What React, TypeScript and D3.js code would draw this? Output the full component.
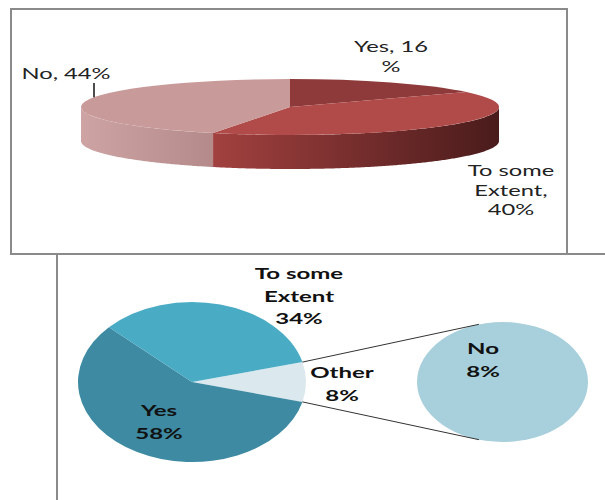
import * as d3 from 'd3';

const W = 605;
const H = 500;

// top chart: 3-D pie
const topCategories = ['Yes', 'To some Extent', 'No'];
const topValues = [16, 40, 44];
const topLabels = [['Yes, 16', '%'], ['To some', 'Extent,', '40%'], ['No, 44%']];

// bottom chart: pie of pie
const mainCategories = ['Yes', 'To some Extent'];
const mainValues = [58, 34];
const mainLabels = [['Yes', '58%'], ['To some', 'Extent', '34%']];
const otherCategories = ['No'];
const otherValues = [8];
const otherLabel = ['Other', '8%'];
const secondLabels = [['No', '8%']];

// styles
const topFill = ['#8e3a3a', '#b04b49', '#c99a9a'];
const topSide = [
  ['#7a2f2f', '#5a2222'],
  ['#a2413f', '#4a1b1b'],
  ['#cda3a3', '#b48a8a'],
];
const mainFill = ['#3d8aa2', '#4aabc5'];
const otherFill = '#dbe8ee';
const secondFill = ['#a8cfdc'];

// top pie geometry
const tp = { cx: 290, cy: 107, rx: 209, ry: 28, depth: 34 };
const topLabelPos = [
  { x: 391, y: 52 },
  { x: 511, y: 176 },
  { x: 66, y: 79 },
];
const topLineH = 19.5;
const topSx = 1.58;

// bottom geometry
const bp = { cx: 192, cy: 382, r: 80, sx: 1.425 };
const sp = { cx: 502.5, cy: 382, r: 60 };
const connectorAngle = (16 * Math.PI) / 180;
const mainLabelPos = [
  { x: 159, y: 416 },
  { x: 299, y: 279 },
];
const otherLabelPos = { x: 342, y: 378 };
const secondLabelPos = [{ x: 483, y: 354 }];
const botLineH = 22.5;
const botSx = 1.5;

function ellipsePt(cx: number, cy: number, rx: number, ry: number, a: number): [number, number] {
  return [cx + rx * Math.sin(a), cy - ry * Math.cos(a)];
}

function Lines({ lines, x, y, lh, sx, bold, size, fill }: any) {
  return (
    <g>
      {lines.map((t: string, i: number) => (
        <text
          key={i}
          transform={`translate(${x},${y + i * lh}) scale(${sx},1)`}
          textAnchor="middle"
          fontWeight={bold ? 700 : 400}
          fontSize={size}
          fill={fill}
        >
          {t}
        </text>
      ))}
    </g>
  );
}

export default function App() {
  // ---- top 3-D pie
  const topPie = d3.pie<number>().sort(null).value(d => d)(topValues);
  const topArc = d3.arc<d3.PieArcDatum<number>>().innerRadius(0).outerRadius(tp.rx);

  // front walls: only the part of each slice between 3 and 9 o'clock shows
  const sides = topPie
    .map((s, i) => {
      const a0 = Math.max(s.startAngle, Math.PI / 2);
      const a1 = Math.min(s.endAngle, (3 * Math.PI) / 2);
      if (a1 <= a0) return null;
      const steps = d3.range(a0, a1, 0.01).concat([a1]);
      const topPts = steps.map(a => ellipsePt(tp.cx, tp.cy, tp.rx, tp.ry, a));
      const botPts = topPts.map(([x, y]) => [x, y + tp.depth] as [number, number]).reverse();
      const d = d3.line()(topPts.concat(botPts)) + 'Z';
      const xs = topPts.map(p => p[0]);
      return { i, d, x0: d3.min(xs) as number, x1: d3.max(xs) as number };
    })
    .filter(Boolean) as { i: number; d: string; x0: number; x1: number }[];

  // leader for "No" label
  const noLabel = topLabelPos[2];
  const leaderX = noLabel.x + 28;
  const leaderA = -Math.asin((tp.cx - leaderX) / tp.rx);
  const leaderEnd = ellipsePt(tp.cx, tp.cy, tp.rx, tp.ry, leaderA);

  // ---- bottom pie of pie
  const otherTotal = d3.sum(otherValues);
  const total = d3.sum(mainValues) + otherTotal;
  const otherSpan = (otherTotal / total) * 2 * Math.PI;
  const mainStart = Math.PI / 2 - otherSpan / 2;
  const mainData = [otherTotal, ...mainValues];
  const mainPie = d3
    .pie<number>()
    .sort(null)
    .value(d => d)
    .startAngle(mainStart)
    .endAngle(mainStart + 2 * Math.PI)(mainData);
  const mainArc = d3.arc<d3.PieArcDatum<number>>().innerRadius(0).outerRadius(bp.r);
  const secondPie = d3.pie<number>().sort(null).value(d => d)(otherValues);
  const secondArc = d3.arc<d3.PieArcDatum<number>>().innerRadius(0).outerRadius(sp.r);

  const otherSlice = mainPie[0];
  const c1 = ellipsePt(bp.cx, bp.cy, bp.r * bp.sx, bp.r, otherSlice.startAngle);
  const c2 = ellipsePt(bp.cx, bp.cy, bp.r * bp.sx, bp.r, otherSlice.endAngle);
  const s1 = ellipsePt(sp.cx, sp.cy, sp.r * bp.sx, sp.r, -connectorAngle);
  const s2 = ellipsePt(sp.cx, sp.cy, sp.r * bp.sx, sp.r, Math.PI + connectorAngle);

  return (
    <svg
      width={W}
      height={H}
      viewBox={`0 0 ${W} ${H}`}
      style={{ position: 'absolute', left: 0, top: 0, background: '#fff' }}
      fontFamily="Lato, 'Open Sans', sans-serif"
    >
      <defs>
        {sides.map(s => (
          <linearGradient
            key={s.i}
            id={`side-${s.i}`}
            gradientUnits="userSpaceOnUse"
            x1={s.x0}
            x2={s.x1}
            y1={0}
            y2={0}
          >
            <stop offset="0" stopColor={topSide[s.i][0]} />
            <stop offset="1" stopColor={topSide[s.i][1]} />
          </linearGradient>
        ))}
      </defs>

      {/* top frame */}
      <rect x={11} y={9} width={556} height={245} fill="#fff" stroke="#8a8a8a" strokeWidth={2} />

      <g>
        {sides.map(s => (
          <path key={topCategories[s.i]} d={s.d} fill={`url(#side-${s.i})`} />
        ))}
        <g transform={`translate(${tp.cx},${tp.cy}) scale(1,${tp.ry / tp.rx})`}>
          {topPie.map((s, i) => (
            <path key={topCategories[i]} d={topArc(s) as string} fill={topFill[i]} />
          ))}
        </g>
      </g>

      <line x1={leaderX} x2={leaderX} y1={noLabel.y + 4} y2={leaderEnd[1]} stroke="#111" strokeWidth={1.5} />
      {topLabels.map((lines, i) => (
        <Lines
          key={topCategories[i]}
          lines={lines}
          x={topLabelPos[i].x}
          y={topLabelPos[i].y}
          lh={topLineH}
          sx={topSx}
          size={15}
          fill="#222"
        />
      ))}

      {/* bottom frame */}
      <rect x={57} y={254} width={W - 57} height={H - 254} fill="#fff" />
      <path d={`M57,${H}V254H${W}`} fill="none" stroke="#8a8a8a" strokeWidth={2} />

      <g transform={`translate(${bp.cx},${bp.cy}) scale(${bp.sx},1)`}>
        {mainPie.map((s, i) => (
          <path
            key={i === 0 ? 'Other' : mainCategories[i - 1]}
            d={mainArc(s) as string}
            fill={i === 0 ? otherFill : mainFill[i - 1]}
          />
        ))}
      </g>
      <g transform={`translate(${sp.cx},${sp.cy}) scale(${bp.sx},1)`}>
        {secondPie.map((s, i) => (
          <path key={otherCategories[i]} d={secondArc(s) as string} fill={secondFill[i]} />
        ))}
      </g>
      <line x1={c1[0]} y1={c1[1]} x2={s1[0]} y2={s1[1]} stroke="#333" strokeWidth={1} />
      <line x1={c2[0]} y1={c2[1]} x2={s2[0]} y2={s2[1]} stroke="#333" strokeWidth={1} />

      {mainLabels.map((lines, i) => (
        <Lines
          key={mainCategories[i]}
          lines={lines}
          x={mainLabelPos[i].x}
          y={mainLabelPos[i].y}
          lh={botLineH}
          sx={botSx}
          bold
          size={16}
          fill="#111"
        />
      ))}
      <Lines lines={otherLabel} x={otherLabelPos.x} y={otherLabelPos.y} lh={botLineH} sx={botSx} bold size={16} fill="#111" />
      {secondLabels.map((lines, i) => (
        <Lines
          key={otherCategories[i]}
          lines={lines}
          x={secondLabelPos[i].x}
          y={secondLabelPos[i].y}
          lh={botLineH}
          sx={botSx}
          bold
          size={16}
          fill="#111"
        />
      ))}
    </svg>
  );
}
